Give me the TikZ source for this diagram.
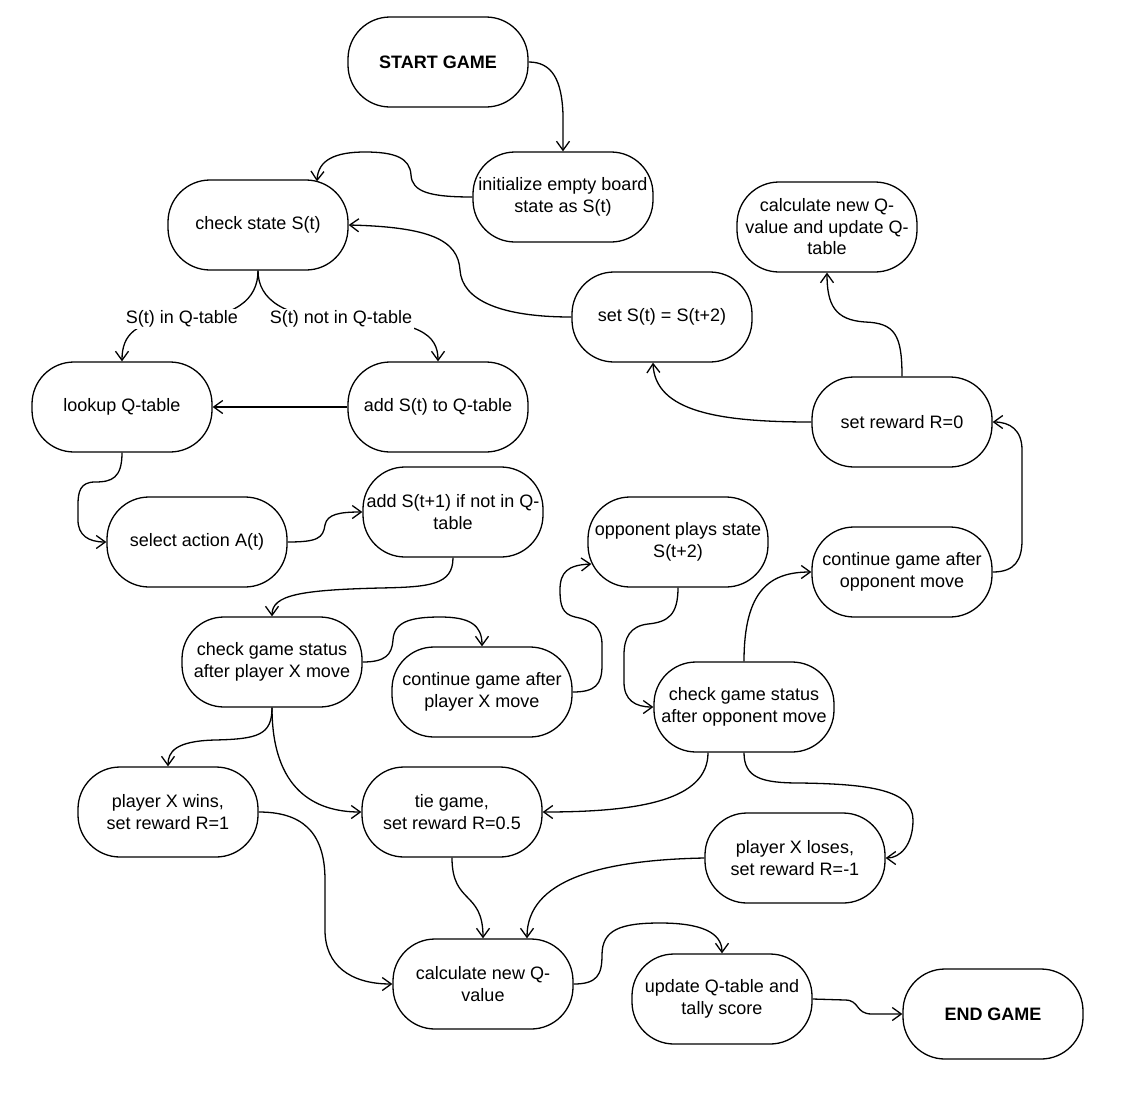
\documentclass[tikz,border=0pt]{standalone}
\usepackage{fontspec}
\setmainfont{Liberation Sans}
\usetikzlibrary{arrows.meta,calc}

\tikzset{
  box/.style={draw, line width=1.3pt, rectangle, rounded corners=42pt,
    minimum width=180pt, minimum height=90pt, inner sep=0pt, align=center,
    font=\fontsize{18}{21.5}\selectfont},
  arr/.style={draw, line width=1.3pt, line join=round,
    -{Straight Barb[length=9pt,width=13pt,line width=1.3pt]}},
  lbl/.style={fill=white, inner sep=1.5pt, font=\fontsize{18}{21.5}\selectfont}
}

\begin{document}
\begin{tikzpicture}[x=1pt,y=-1pt]
\fill[white] (0,0) rectangle (1124,1098);
\useasboundingbox (0,0) rectangle (1124,1098);

% states of the game loop
\node[box] (start)  at (438,62)   {\bfseries START GAME};
\node[box] (init)   at (563,197)  {initialize empty board\\state as S(t)};
\node[box] (chk)    at (258,225)  {check state S(t)};
\node[box] (calcQU) at (827,227)  {calculate new Q-\\value and update Q-\\table};
\node[box] (setS)   at (662,317)  {set S(t) = S(t+2)};
\node[box] (look)   at (122,407)  {lookup Q-table};
\node[box] (addS)   at (438,407)  {add S(t) to Q-table};
\node[box] (setR)   at (902,422)  {set reward R=0};
\node[box] (sel)    at (197,542)  {select action A(t)};
\node[box] (addN)   at (453,512)  {add S(t+1) if not in Q-\\table};
\node[box] (opp)    at (678,542)  {opponent plays state\\S(t+2)};
\node[box] (contO)  at (902,572)  {continue game after\\opponent move};
\node[box] (chkX)   at (272,662)  {check game status\\after player X move};
\node[box] (contX)  at (482,692)  {continue game after\\player X move};
\node[box] (chkO)   at (744,707)  {check game status\\after opponent move};
\node[box] (winX)   at (168,812)  {player X wins,\\set reward R=1};
\node[box] (tie)    at (452,812)  {tie game,\\set reward R=0.5};
\node[box] (lose)   at (795,858)  {player X loses,\\set reward R=-1};
\node[box] (calcQ)  at (483,984)  {calculate new Q-\\value};
\node[box] (upd)    at (722,999)  {update Q-table and\\tally score};
\node[box] (finish) at (993,1014) {\bfseries END GAME};

% transitions
\draw[arr] (start.east) .. controls (552,62) and (562,80) .. (563,115) -- (init.north);

\draw[arr] (init.west) .. controls (430,197) and (412,192) .. (411,175)
  .. controls (410,158) and (395,152) .. (365,152)
  .. controls (335,152) and (318,160) .. ($(chk.north)+(59,2)$);

\draw[arr] (setS.west) .. controls (500,317) and (462,300) .. (460,270)
  .. controls (458,240) and (430,227) .. (chk.east);

\draw[arr] (chk.south) .. controls (258,300) and (235,318) .. (182,319)
  node[lbl] {S(t) in Q-table}
  .. controls (135,320) and (122,335) .. (look.north);

\draw[arr] (chk.south) .. controls (258,300) and (285,318) .. (341,319)
  node[lbl] {S(t) not in Q-table}
  .. controls (420,320) and (438,335) .. (addS.north);

\draw[arr] (addS.west) -- (addS.west -| look.east);

\draw[arr] (look.south) .. controls (122,478) and (112,482) .. (95,482)
  .. controls (80,482) and (78,492) .. (78,505) -- (78,520)
  .. controls (78,535) and (88,542) .. (sel.west);

\draw[arr] (sel.east) .. controls (318,542) and (323,538) .. (325,525)
  .. controls (327,514) and (340,512) .. (addN.west);

\draw[arr] (addN.south) .. controls (453,585) and (430,587) .. (380,588)
  .. controls (300,590) and (272,595) .. (chkX.north);

\draw[arr] (chkX.east) .. controls (385,662) and (392,655) .. (393,640)
  .. controls (394,622) and (410,617) .. (440,617)
  .. controls (470,617) and (482,625) .. (contX.north);

\draw[arr] (contX.east) .. controls (595,692) and (602,685) .. (602,665) -- (602,645)
  .. controls (602,625) and (590,620) .. (575,617)
  .. controls (562,614) and (560,605) .. (560,590)
  .. controls (560,572) and (568,565) .. ($(opp.west)+(4,22)$);

\draw[arr] (opp.south) .. controls (678,615) and (668,622) .. (648,624)
  .. controls (630,626) and (624,638) .. (624,655) -- (624,682)
  .. controls (624,700) and (635,707) .. (chkO.west);

\draw[arr] (chkO.north) .. controls (744,590) and (770,572) .. (contO.west);

\draw[arr] (contO.east) .. controls (1015,572) and (1022,560) .. (1022,540) -- (1022,450)
  .. controls (1022,430) and (1010,422) .. (setR.east);

\draw[arr] (setR.west) .. controls (720,422) and (655,412) .. ($(setS.south)+(-9,0)$);

\draw[arr] (setR.north) .. controls (902,335) and (895,323) .. (865,322)
  .. controls (835,320) and (827,305) .. (calcQU.south);

\draw[arr] (chkX.south) .. controls (272,735) and (258,739) .. (215,740)
  .. controls (175,741) and (168,752) .. (winX.north);

\draw[arr] (chkX.south) .. controls (272,790) and (315,812) .. (tie.west);

\draw[arr] ($(chkO.south)+(-36,0)$) .. controls (708,800) and (640,812) .. (tie.east);

\draw[arr] (chkO.south) .. controls (744,778) and (762,783) .. (800,783)
  .. controls (870,784) and (913,790) .. (913,820)
  .. controls (913,845) and (900,858) .. (lose.east);

\draw[arr] (winX.east) .. controls (300,812) and (325,830) .. (325,880) -- (325,930)
  .. controls (325,965) and (350,984) .. (calcQ.west);

\draw[arr] (tie.south) .. controls (452,905) and (483,890) .. (calcQ.north);

\draw[arr] (lose.west) .. controls (600,860) and (527,880) .. ($(calcQ.north)+(44,0)$);

\draw[arr] (calcQ.east) .. controls (597,984) and (602,975) .. (602,955)
  .. controls (602,930) and (620,923) .. (660,923)
  .. controls (700,923) and (722,932) .. (upd.north);

\draw[arr] (upd.east) -- (845,1000) .. controls (860,1000) and (855,1014) .. (872,1014)
  -- (finish.west);
\end{tikzpicture}
\end{document}
